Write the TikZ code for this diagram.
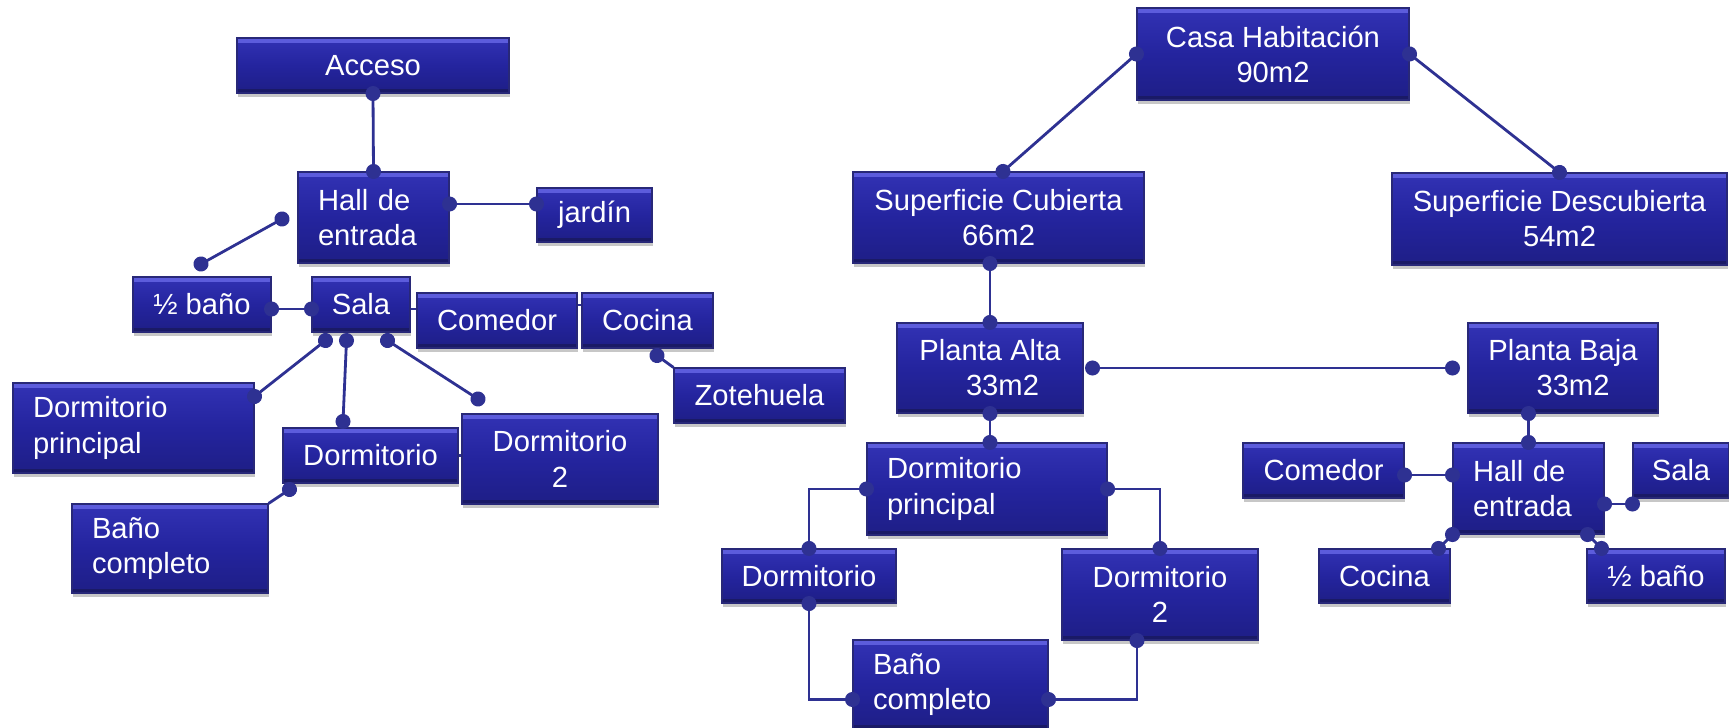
\documentclass[tikz,border=0pt]{standalone}
\usepackage{fontspec}
\setmainfont{Liberation Sans}
\usepackage{tikz}
\usetikzlibrary{arrows.meta,shadows}

\definecolor{boxmid}{RGB}{36,36,158}
\definecolor{boxhi}{RGB}{50,50,180}
\definecolor{boxlo}{RGB}{30,30,134}
\definecolor{bevelhi}{RGB}{92,92,220}
\definecolor{bevello}{RGB}{26,26,102}
\definecolor{boxline}{RGB}{40,40,120}
\definecolor{linkcol}{RGB}{46,49,146}

\begin{document}
\begin{tikzpicture}[>={Circle[length=0.15cm]}]
  \tikzset{room/.style={draw=boxline,line width=0.3pt,top color=boxhi,bottom color=boxlo,middle color=boxmid,
      text=white,font=\fontsize{8.3}{10}\selectfont,inner sep=0pt,align=center,
      drop shadow={shadow xshift=0.01cm,shadow yshift=-0.04cm,fill=black,opacity=0.22},
      path picture={
        \fill[bevelhi] (path picture bounding box.north west) rectangle ([yshift=-0.05cm]path picture bounding box.north east);
        \fill[bevello] (path picture bounding box.south west) rectangle ([yshift=0.04cm]path picture bounding box.south east);}},
    roomL/.style={room,align=left,inner xsep=0.2cm},
    link/.style={draw=linkcol,line width=0.8pt,<->,shorten <=-0.075cm,shorten >=-0.075cm},
    gap/.style={draw=linkcol,line width=0.8pt}}
  \useasboundingbox (0,0) rectangle (17.29,-7.28);

  % left: rooms by access
  \node[room,minimum width=2.72cm,minimum height=0.55cm] (acc) at (3.73,-0.655) {Acceso};
  \node[roomL,text width=1.11cm,minimum height=0.91cm] (hall) at (3.735,-2.175) {Hall de\\entrada};
  \node[room,minimum width=1.15cm,minimum height=0.54cm] (jar) at (5.945,-2.15) {jardín};
  \node[room,minimum width=1.38cm,minimum height=0.55cm] (mb) at (2.02,-3.045) {½ baño};
  \node[room,minimum width=0.98cm,minimum height=0.55cm] (sala) at (3.61,-3.045) {Sala};
  \node[room,minimum width=1.60cm,minimum height=0.55cm] (com) at (4.97,-3.205) {Comedor};
  \node[room,minimum width=1.31cm,minimum height=0.55cm] (coc) at (6.475,-3.205) {Cocina};
  \node[room,minimum width=1.71cm,minimum height=0.55cm] (zot) at (7.595,-3.955) {Zotehuela};
  \node[roomL,text width=2.01cm,minimum height=0.90cm] (dp) at (1.335,-4.28) {Dormitorio\\principal};
  \node[room,minimum width=1.75cm,minimum height=0.55cm] (dor) at (3.705,-4.555) {Dormitorio};
  \node[room,minimum width=1.96cm,minimum height=0.90cm] (d2) at (5.60,-4.59) {Dormitorio\\2};
  \node[roomL,text width=1.56cm,minimum height=0.89cm] (bc) at (1.70,-5.485) {Baño\\completo};

  % right: areas
  \node[room,minimum width=2.72cm,minimum height=0.92cm] (casa) at (12.73,-0.54) {Casa Habitación\\90m2};
  \node[room,minimum width=2.91cm,minimum height=0.91cm] (sc) at (9.985,-2.175) {Superficie Cubierta\\66m2};
  \node[room,minimum width=3.35cm,minimum height=0.92cm] (sd) at (15.595,-2.19) {Superficie Descubierta\\54m2};
  \node[room,minimum width=1.86cm,minimum height=0.90cm] (pa) at (9.90,-3.68) {Planta Alta\\\hspace*{0.25cm}33m2};
  \node[room,minimum width=1.90cm,minimum height=0.90cm] (pb) at (15.63,-3.68) {Planta Baja\\\hspace*{0.2cm}33m2};
  \node[roomL,text width=2.00cm,minimum height=0.92cm] (rdp) at (9.87,-4.89) {Dormitorio\\principal};
  \node[room,minimum width=1.61cm,minimum height=0.55cm] (rcom) at (13.235,-4.705) {Comedor};
  \node[roomL,text width=1.11cm,minimum height=0.91cm] (rhall) at (15.285,-4.885) {Hall de\\entrada};
  \node[room,minimum width=0.96cm,minimum height=0.55cm] (rsala) at (16.81,-4.705) {Sala};
  \node[room,minimum width=1.74cm,minimum height=0.54cm] (rdor) at (8.09,-5.76) {Dormitorio};
  \node[room,minimum width=1.96cm,minimum height=0.91cm] (rd2) at (11.60,-5.945) {Dormitorio\\2};
  \node[room,minimum width=1.31cm,minimum height=0.54cm] (rcoc) at (13.845,-5.76) {Cocina};
  \node[room,minimum width=1.38cm,minimum height=0.54cm] (rmb) at (16.56,-5.76) {½ baño};
  \node[roomL,text width=1.55cm,minimum height=0.89cm] (rbc) at (9.505,-6.845) {Baño\\completo};

  % left links
  \coordinate (f1) at (2.82,-2.19);
  \coordinate (f2) at (2.01,-2.64);
  \coordinate (f3) at (4.78,-3.99);
  \draw[link] (acc.south) -- (hall.north);
  \draw[link] ([yshift=0.135cm]hall.east) -- ([yshift=0.135cm]hall.east -| jar.west);
  \draw[link] (f1) -- (f2);
  \draw[link] ([yshift=-0.045cm]mb.east) -- ([yshift=-0.045cm]mb.east -| sala.west);
  \draw[link] ([xshift=-0.355cm,yshift=-0.08cm]sala.south) -- ([yshift=-0.14cm]dp.north east);
  \draw[link] ([xshift=-0.145cm,yshift=-0.08cm]sala.south) -- ([xshift=-0.275cm,yshift=0.06cm]dor.north);
  \draw[link] ([xshift=0.265cm,yshift=-0.08cm]sala.south) -- (f3);
  \draw[gap] ([yshift=-0.045cm]sala.east) -- ([yshift=-0.045cm]sala.east -| com.west);
  \draw[gap] ([yshift=0.155cm]com.east) -- ([yshift=0.155cm]com.east -| coc.west);
  \draw[gap] (dor.east) -- (dor.east -| d2.west);
  \draw[link,<-,shorten >=0pt] ([xshift=0.095cm,yshift=-0.07cm]coc.south) -- (zot.north west);
  \draw[link,<-,shorten >=0pt] ([xshift=0.07cm,yshift=-0.06cm]dor.south west) -- (bc.north east);

  % right links
  \draw[link] (casa.west) -- ([xshift=0.045cm]sc.north);
  \draw[link] (casa.east) -- (sd.north);
  \draw[link] (pa.north |- sc.south) -- (pa.north);
  \draw[link] ([xshift=0.09cm]pa.east) -- ([xshift=-0.15cm]pb.west);
  \draw[link] (pa.south) -- (pa.south |- rdp.north);
  \draw[link] (rhall.north |- pb.south) -- (rhall.north);
  \draw[link] (rdp.west) -| (rdor.north);
  \draw[link] (rdp.east) -| (rd2.north);
  \draw[link] (rdor.south) |- ([yshift=-0.15cm]rbc.west);
  \draw[link] ([xshift=-0.23cm]rd2.south) |- ([yshift=-0.15cm]rbc.east);
  \draw[link] ([yshift=-0.045cm]rcom.east) -- ([yshift=-0.045cm]rcom.east -| rhall.west);
  \draw[link] ([yshift=-0.155cm]rhall.east) -- ([yshift=-0.155cm]rhall.east -| rsala.west);
  \draw[link] (rhall.south west) -- ([xshift=-0.12cm]rcoc.north east);
  \draw[link] ([xshift=-0.17cm]rhall.south east) -- ([xshift=0.15cm]rmb.north west);
\end{tikzpicture}
\end{document}
